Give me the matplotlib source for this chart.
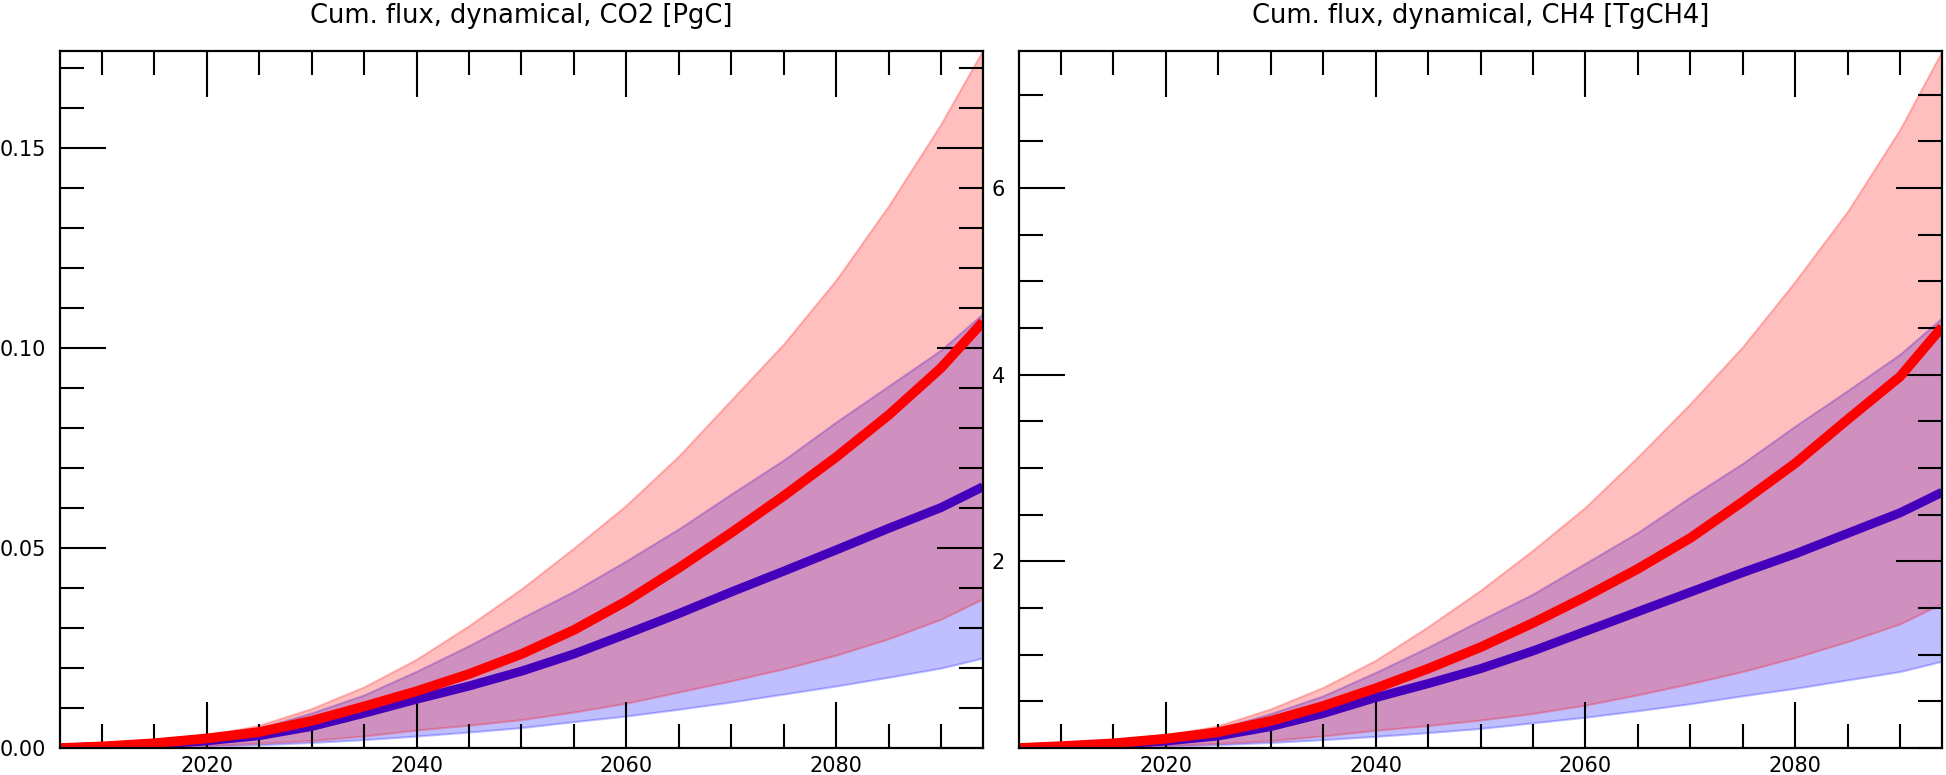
import numpy as np
from matplotlib import pyplot as plt
from matplotlib.ticker import MultipleLocator

years = [2006, 2010, 2015, 2020, 2025, 2030, 2035, 2040, 2045, 2050,
         2055, 2060, 2065, 2070, 2075, 2080, 2085, 2090, 2094]

# CO2 cumulative flux [PgC]
co2_red_med = [0, 0.0004, 0.0012, 0.0024, 0.0040, 0.0068, 0.0104, 0.0142, 0.0185, 0.0235,
               0.0295, 0.0367, 0.0450, 0.0538, 0.0630, 0.0727, 0.0832, 0.0950, 0.1065]
co2_red_hi = [0, 0.0006, 0.0017, 0.0031, 0.0057, 0.0099, 0.0153, 0.0222, 0.0306, 0.0398,
              0.0500, 0.0607, 0.0730, 0.0870, 0.1010, 0.1170, 0.1355, 0.1560, 0.1745]
co2_red_lo = [0, 0.0001, 0.0004, 0.0007, 0.0012, 0.0019, 0.0030, 0.0045, 0.0057, 0.0071,
              0.0090, 0.0112, 0.0140, 0.0168, 0.0198, 0.0232, 0.0273, 0.0322, 0.0373]
co2_blue_med = [0, 0.0003, 0.0009, 0.0018, 0.0031, 0.0054, 0.0087, 0.0122, 0.0155, 0.0192,
                0.0235, 0.0285, 0.0336, 0.0390, 0.0442, 0.0495, 0.0549, 0.0601, 0.0653]
co2_blue_hi = [0, 0.0005, 0.0014, 0.0026, 0.0050, 0.0088, 0.0133, 0.0192, 0.0256, 0.0325,
               0.0392, 0.0468, 0.0548, 0.0635, 0.0720, 0.0815, 0.0905, 0.0995, 0.1086]
co2_blue_lo = [0, 0.0001, 0.0002, 0.0005, 0.0008, 0.0014, 0.0021, 0.0030, 0.0040, 0.0051,
               0.0066, 0.0080, 0.0097, 0.0115, 0.0135, 0.0155, 0.0177, 0.0200, 0.0225]

# CH4 cumulative flux [TgCH4]
ch4_red_med = [0, 0.02, 0.05, 0.10, 0.17, 0.29, 0.45, 0.64, 0.85, 1.08,
               1.34, 1.62, 1.92, 2.25, 2.64, 3.05, 3.52, 3.98, 4.51]
ch4_red_hi = [0, 0.025, 0.07, 0.13, 0.24, 0.42, 0.65, 0.94, 1.30, 1.69,
              2.12, 2.58, 3.12, 3.69, 4.30, 5.00, 5.75, 6.63, 7.47]
ch4_red_lo = [0, 0.005, 0.015, 0.03, 0.05, 0.08, 0.13, 0.19, 0.24, 0.30,
              0.37, 0.46, 0.57, 0.69, 0.82, 0.97, 1.14, 1.33, 1.55]
ch4_blue_med = [0, 0.015, 0.04, 0.075, 0.13, 0.23, 0.37, 0.54, 0.69, 0.85,
                1.04, 1.25, 1.46, 1.67, 1.88, 2.08, 2.30, 2.52, 2.74]
ch4_blue_hi = [0, 0.02, 0.06, 0.11, 0.21, 0.37, 0.56, 0.81, 1.08, 1.37,
               1.65, 1.98, 2.31, 2.69, 3.05, 3.45, 3.83, 4.22, 4.61]
ch4_blue_lo = [0, 0.004, 0.01, 0.02, 0.035, 0.06, 0.09, 0.125, 0.165, 0.21,
               0.27, 0.33, 0.40, 0.475, 0.56, 0.64, 0.73, 0.82, 0.93]

titles = ["Cum. flux, dynamical, CO2 [PgC]", "Cum. flux, dynamical, CH4 [TgCH4]"]

fig = plt.figure(figsize=(19.46, 7.75), dpi=100)
ax1 = fig.add_axes([0.0308, 0.0348, 0.4743, 0.8998])
ax2 = fig.add_axes([0.5236, 0.0348, 0.4744, 0.8998])


def draw_panel(ax, red_med, red_lo, red_hi, blue_med, blue_lo, blue_hi):
    ax.fill_between(years, blue_lo, blue_hi, color='blue', alpha=0.25, lw=1.5)
    ax.fill_between(years, red_lo, red_hi, color='red', alpha=0.25, lw=1.5)
    ax.plot(years, blue_med, color='#4400bb', lw=6.5, solid_capstyle='butt')
    ax.plot(years, red_med, color='#ff0000', lw=7, solid_capstyle='butt')
    ax.set_xlim(2006, 2094)
    ax.xaxis.set_minor_locator(MultipleLocator(5))
    ax.set_xticks([2020, 2040, 2060, 2080])
    ax.tick_params(which='both', direction='in', top=True, right=True,
                   labelsize=15, width=1.5, color='black')
    ax.tick_params(which='major', length=33)
    ax.tick_params(which='minor', length=17)
    ax.tick_params(axis='x', pad=6)
    ax.tick_params(axis='y', pad=10)
    for s in ax.spines.values():
        s.set_linewidth(1.6)


draw_panel(ax1, co2_red_med, co2_red_lo, co2_red_hi, co2_blue_med, co2_blue_lo, co2_blue_hi)
ax1.set_ylim(0, 0.1743)
ax1.set_yticks([0, 0.05, 0.10, 0.15])
ax1.set_yticklabels(["0.00", "0.05", "0.10", "0.15"])
ax1.yaxis.set_minor_locator(MultipleLocator(0.01))
ax1.set_title(titles[0], fontsize=18.5, pad=20)

draw_panel(ax2, ch4_red_med, ch4_red_lo, ch4_red_hi, ch4_blue_med, ch4_blue_lo, ch4_blue_hi)
ax2.set_ylim(0, 7.47)
ax2.set_yticks([2, 4, 6])
ax2.yaxis.set_minor_locator(MultipleLocator(0.5))
ax2.set_title(titles[1], fontsize=18.5, pad=20)

fig.savefig('out.png', dpi=100)
